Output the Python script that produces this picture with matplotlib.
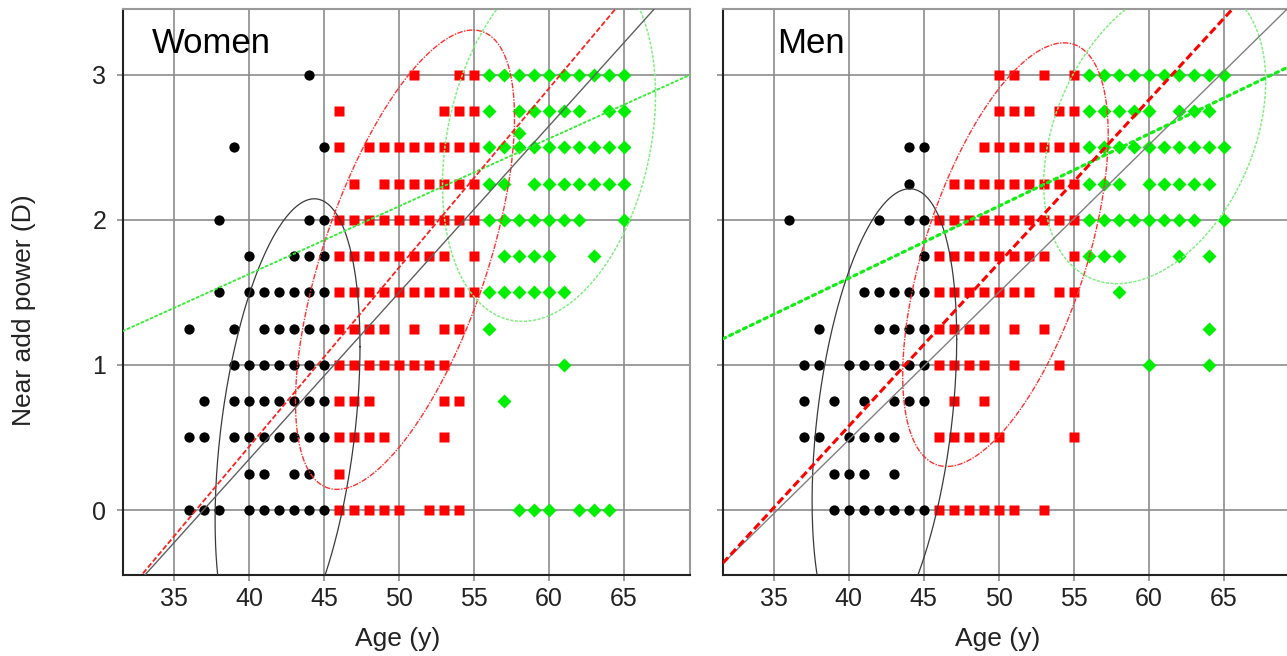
import numpy as np
import matplotlib
matplotlib.use("Agg")
import matplotlib.pyplot as plt

plt.rcParams['font.family'] = ['Liberation Sans', 'DejaVu Sans']

# ---------------- data ----------------
panel_titles = ["Women", "Men"]
x_label = "Age (y)"
y_label = "Near add power (D)"
x_ticks = [35, 40, 45, 50, 55, 60, 65]
y_ticks = [0, 1, 2, 3]

# near add power level -> ages observed (unique positions)
women_young = {3.0: [44], 2.5: [39, 45], 2.0: [38, 44, 45], 1.75: [40, 43, 44, 45],
               1.5: [38, 40, 41, 42, 43, 44, 45], 1.25: [36, 39, 41, 42, 43, 44, 45],
               1.0: [39, 40, 41, 42, 43, 44, 45], 0.75: [37, 39, 40, 41, 42, 43, 44, 45],
               0.5: [36, 37, 39, 40, 41, 42, 43, 44, 45], 0.25: [40, 41, 43, 44],
               0.0: [36, 37, 38, 40, 41, 42, 43, 44, 45]}
women_middle = {3.0: [51, 54, 55], 2.75: [46, 53, 54, 55],
                2.5: [46, 48, 49, 50, 51, 52, 53, 54, 55],
                2.25: [47, 49, 50, 51, 52, 53, 54, 55],
                2.0: [46, 47, 48, 49, 50, 51, 52, 53, 54, 55],
                1.75: [46, 47, 48, 49, 50, 51, 52, 53, 55],
                1.5: [46, 47, 48, 49, 50, 51, 52, 53, 54, 55],
                1.25: [46, 47, 48, 49, 51, 53, 54],
                1.0: [46, 47, 48, 49, 50, 51, 52, 53],
                0.75: [46, 47, 48, 53, 54], 0.5: [46, 47, 48, 49, 53], 0.25: [46],
                0.0: [46, 47, 48, 49, 50, 52, 53, 54]}
women_old = {3.0: [56, 57, 58, 59, 60, 61, 62, 63, 64, 65],
             2.75: [56, 58, 59, 60, 61, 62, 64, 65], 2.6: [58],
             2.5: [56, 57, 58, 59, 60, 61, 62, 63, 64, 65],
             2.25: [56, 57, 59, 60, 61, 62, 63, 64, 65],
             2.0: [56, 57, 58, 59, 60, 61, 62, 65], 1.75: [57, 58, 59, 60, 63],
             1.5: [56, 57, 58, 59, 60, 61], 1.25: [56], 1.0: [61], 0.75: [57],
             0.0: [58, 59, 60, 62, 63, 64]}

men_young = {2.5: [44, 45], 2.25: [44], 2.0: [36, 42, 44, 45], 1.75: [45],
             1.5: [41, 42, 43, 44, 45], 1.25: [38, 42, 43, 44, 45],
             1.0: [37, 38, 40, 41, 42, 43, 44, 45], 0.75: [37, 39, 41, 43, 44, 45],
             0.5: [37, 38, 40, 41, 42, 43], 0.25: [39, 40, 41, 43],
             0.0: [39, 40, 41, 42, 43, 44, 45]}
men_middle = {3.0: [50, 51, 53, 55], 2.75: [50, 51, 52, 54, 55],
              2.5: [49, 50, 51, 52, 53, 54, 55],
              2.25: [47, 48, 49, 50, 51, 52, 53, 54, 55],
              2.0: [46, 47, 48, 49, 50, 51, 52, 53, 54, 55],
              1.75: [46, 47, 48, 49, 50, 51, 52, 53, 55],
              1.5: [46, 47, 48, 49, 50, 51, 52, 54, 55],
              1.25: [46, 47, 48, 49, 51, 53], 1.0: [46, 47, 48, 49, 51, 54],
              0.75: [47, 49], 0.5: [46, 47, 48, 49, 50, 55],
              0.0: [46, 47, 48, 49, 50, 51, 53]}
men_old = {3.0: [56, 57, 58, 59, 60, 61, 62, 63, 64, 65],
           2.75: [56, 57, 58, 59, 60, 62, 63, 64],
           2.5: [56, 57, 58, 59, 60, 61, 62, 63, 64, 65],
           2.25: [56, 57, 58, 60, 61, 62, 63, 64],
           2.0: [56, 57, 58, 59, 60, 61, 62, 63, 65],
           1.75: [56, 57, 58, 62, 64], 1.5: [58], 1.25: [64], 1.0: [60, 64]}

# group ellipses: mean age, mean add, age half-extent, add half-extent, correlation
women_ellipses = {"young": (42.57, 0.527, 4.83, 1.618, 0.37),
                  "middle": (50.4, 1.725, 7.3, 1.583, 0.62),
                  "old": (60.0, 2.55, 7.1, 1.25, 0.25)}
men_ellipses = {"young": (42.38, 0.618, 4.82, 1.596, 0.35),
                "middle": (50.45, 1.76, 6.85, 1.46, 0.57),
                "old": (60.4, 2.6, 7.4, 1.04, 0.34)}

# fitted lines: (slope per year, intercept)
women_fits = {"black": (0.1149, -4.247), "red": (0.1235, -4.504), "green": (0.0467, -0.242)}
men_fits = {"black": (0.1016, -3.581), "red": (0.1124, -3.919), "green": (0.0497, -0.391)}

# ---------------- styles ----------------
XLIM = (31.6, 69.4)
YLIM = (-0.448, 3.451)
GRID = '#8c8c8c'

marker_style = {
    "young": dict(marker='o', color='black', ms=7.4),
    "middle": dict(marker='s', color='#ff0000', ms=7.9),
    "old": dict(marker='D', color='#00ee00', ms=7.2),
}
ellipse_style = {
    "young": dict(color='#3a3a3a', lw=0.9, ls='-'),
    "middle": dict(color='#ff3030', lw=1.0, ls=(0, (4, 1, 1, 1))),
    "old": dict(color='#80ee80', lw=1.1, ls=(0, (2, 1))),
}

fig = plt.figure(figsize=(12.87, 6.56), dpi=100)
W, H = 1287.0, 656.0
ax_w = 567.0 / W
ax_h = 565.7 / H
ax_y0 = (H - 575.0) / H
axes = [fig.add_axes([123.0 / W, ax_y0, ax_w, ax_h]),
        fig.add_axes([722.7 / W, ax_y0, ax_w, ax_h])]

panels = [
    (women_young, women_middle, women_old, women_ellipses, women_fits),
    (men_young, men_middle, men_old, men_ellipses, men_fits),
]
line_styles = [
    {"black": dict(color='#606060', lw=1.0, ls='-'),
     "red": dict(color='#ff2020', lw=1.3, ls=(0, (3, 1.3))),
     "green": dict(color='#33ee33', lw=1.4, ls=(0, (1, 1.6)))},
    {"black": dict(color='#808080', lw=1.0, ls='-'),
     "red": dict(color='#ff0000', lw=2.2, ls=(0, (2.6, 1.2))),
     "green": dict(color='#11ee11', lw=2.3, ls=(0, (1, 1.4)))},
]
title_x = [0.051, 0.0963]

for i, ax in enumerate(axes):
    young, middle, old, ells, fits = panels[i]
    ax.set_xlim(*XLIM)
    ax.set_ylim(*YLIM)
    ax.set_xticks(x_ticks)
    ax.set_yticks(y_ticks)
    ax.grid(True, color=GRID, lw=1.2, zorder=0)
    ax.set_axisbelow(True)
    ax.tick_params(direction='out', length=4, width=1.2, color=GRID,
                   labelsize=18, labelcolor='#222222')
    ax.tick_params(axis='x', pad=5)
    ax.tick_params(axis='y', pad=8)
    if i == 1:
        ax.tick_params(axis='y', labelleft=False)
    for side in ['left', 'bottom']:
        ax.spines[side].set_color('#222222')
        ax.spines[side].set_linewidth(1.5)
    for side in ['top', 'right']:
        ax.spines[side].set_color('#999999')
        ax.spines[side].set_linewidth(1.5)

    for key, grp in (("young", young), ("middle", middle), ("old", old)):
        xs, ys = [], []
        for lvl, ages in grp.items():
            xs += ages
            ys += [lvl] * len(ages)
        st = marker_style[key]
        ax.plot(xs, ys, ls='none', marker=st['marker'], ms=st['ms'],
                mfc=st['color'], mec='none', zorder=2)

    t = np.linspace(0, 2 * np.pi, 400)
    for key, (mx, my, kx, ky, r) in ells.items():
        ex = mx + kx * np.cos(t)
        ey = my + ky * (r * np.cos(t) + np.sqrt(1 - r ** 2) * np.sin(t))
        ax.plot(ex, ey, zorder=3, **ellipse_style[key])

    xx = np.array(XLIM)
    for key in ("black", "green", "red"):
        slope, icpt = fits[key]
        ax.plot(xx, icpt + slope * xx, zorder=4, dash_capstyle='round'
                if key == 'green' else 'butt', **line_styles[i][key])

    ax.text(title_x[i], 0.9228, panel_titles[i], transform=ax.transAxes,
            fontsize=25, va='baseline', ha='left', color='black')

fig.text(397.5 / W, (H - 646) / H, x_label, fontsize=19, ha='center', va='baseline', color='#222222')
fig.text(997.5 / W, (H - 646) / H, x_label, fontsize=19, ha='center', va='baseline', color='#222222')
fig.text(24 / W, (H - 310) / H, y_label, fontsize=19, rotation=90, ha='center', va='center', color='#222222')

fig.savefig("out.png", dpi=100)
